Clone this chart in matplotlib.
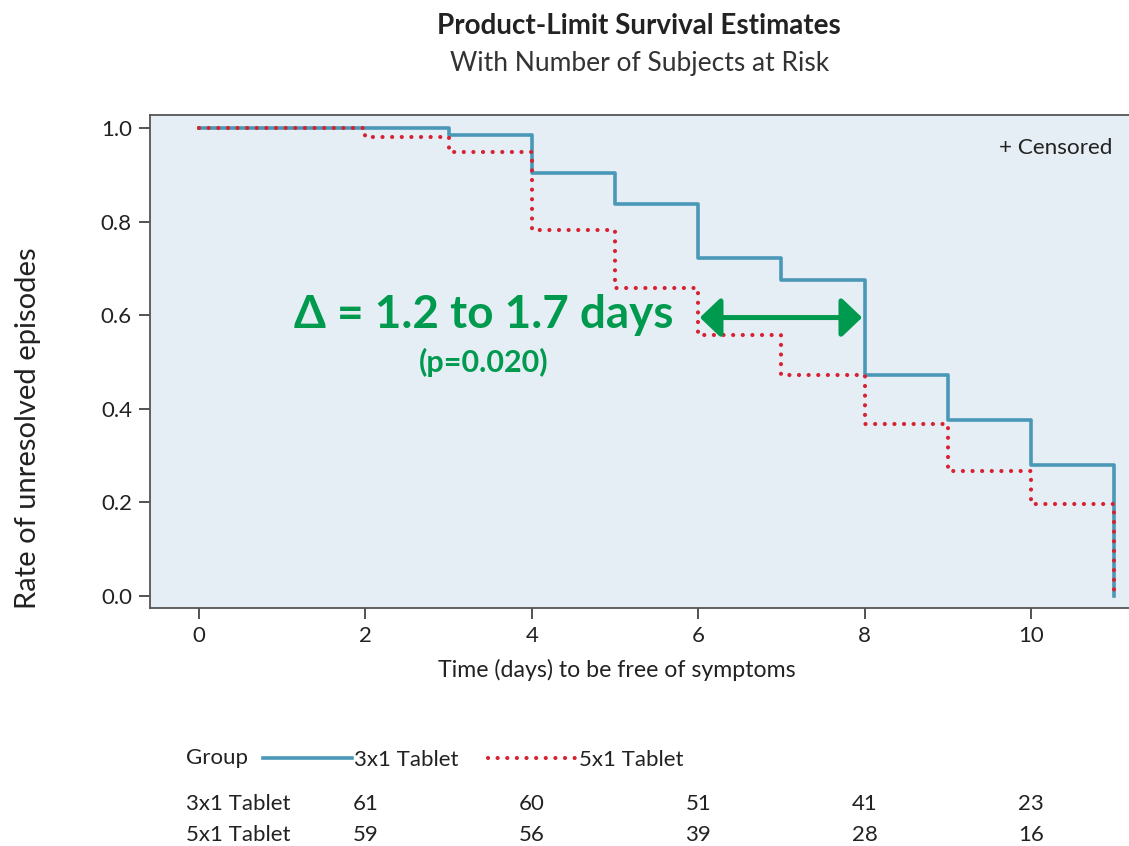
import matplotlib
matplotlib.use("Agg")
import matplotlib.pyplot as plt
from matplotlib.lines import Line2D
from matplotlib.patches import FancyArrowPatch
from matplotlib.transforms import blended_transform_factory

# ---------------- data ----------------
blue_times = [0, 3, 4, 5, 6, 7, 8, 9, 10, 11]
blue_surv = [1.0, 0.984, 0.9045, 0.838, 0.723, 0.676, 0.472, 0.377, 0.281, 0.0]
red_times = [0, 2, 3, 4, 5, 6, 7, 8, 9, 10, 11]
red_surv = [1.0, 0.981, 0.949, 0.782, 0.658, 0.558, 0.472, 0.368, 0.268, 0.197, 0.0]
group_labels = ["3x1 Tablet", "5x1 Tablet"]
risk_times = [2, 4, 6, 8, 10]
risk_3x1 = [61, 60, 51, 41, 23]
risk_5x1 = [59, 56, 39, 28, 16]
x_ticks = [0, 2, 4, 6, 8, 10]
y_ticks = [0.0, 0.2, 0.4, 0.6, 0.8, 1.0]
arrow_from, arrow_to, arrow_y = 6.02, 7.97, 0.595

FONT = ["Lato", "DejaVu Sans"]
plt.rcParams["font.family"] = FONT

BLUE = "#4A98B7"
RED = "#D62231"
GREEN = "#009A4E"
BG = "#E5EDF5"
TXT = "#222222"
DOT = (0, (0.01, 2.3))

W, H = 1129, 846
fig = plt.figure(figsize=(W / 100, H / 100), dpi=100)

def fx(px):
    return px / W

def fy(py):
    return 1 - py / H

ax = fig.add_axes([fx(150), fy(608), 1 - fx(150), fy(115) - fy(608)])
ax.set_facecolor(BG)
ax.set_xlim(-0.589, 11.178)
ax.set_ylim(-0.0256, 1.0278)

ax.step(blue_times, blue_surv, where="post", color=BLUE, lw=2.6, zorder=3)
ax.step(red_times, red_surv, where="post", color=RED, lw=3.0,
        linestyle=DOT, dash_capstyle="round", zorder=4)

ax.set_xticks(x_ticks)
ax.set_xticklabels([str(t) for t in x_ticks])
ax.set_yticks(y_ticks)
ax.set_yticklabels([f"{v:.1f}" for v in y_ticks])
ax.tick_params(axis="both", direction="out", length=8, width=1.3,
               color="#444444", labelsize=16, labelcolor=TXT, pad=5)
for s in ["left", "bottom", "top"]:
    ax.spines[s].set_color("#555555")
    ax.spines[s].set_linewidth(1.3)
ax.spines["right"].set_visible(False)

# arrow
arr = FancyArrowPatch((arrow_from, arrow_y), (arrow_to, arrow_y),
                      arrowstyle="<|-|>,head_length=1.05,head_width=1.0",
                      mutation_scale=12, color=GREEN, lw=3.6, zorder=5,
                      shrinkA=0, shrinkB=0)
ax.add_patch(arr)

ax.text(fx(484), fy(315), "\u0394 = 1.2 to 1.7 days", transform=fig.transFigure,
        ha="center", va="center", color=GREEN, fontsize=33, fontweight="bold")
ax.text(fx(484), fy(362), "(p=0.020)", transform=fig.transFigure,
        ha="center", va="center", color=GREEN, fontsize=22, fontweight="bold")
ax.text(fx(1112), fy(148), "+ Censored", transform=fig.transFigure,
        ha="right", va="center", color=TXT, fontsize=16.2)

# titles and labels
fig.text(fx(639), fy(26), "Product-Limit Survival Estimates", ha="center",
         va="center", fontsize=20, fontweight="bold", color=TXT)
fig.text(fx(640), fy(64), "With Number of Subjects at Risk", ha="center",
         va="center", fontsize=19, color="#333333")
fig.text(fx(617), fy(670), "Time (days) to be free of symptoms", ha="center",
         va="center", fontsize=16.7, color=TXT)
fig.text(fx(28), fy(428), "Rate of unresolved episodes", ha="center",
         va="center", rotation=90, fontsize=21, color=TXT)

# risk table legend
fig.text(fx(186), fy(758), "Group", ha="left", va="center", fontsize=16, color=TXT)
h1 = Line2D([], [], color=BLUE, lw=2.6)
h2 = Line2D([], [], color=RED, lw=3.0, linestyle=DOT, dash_capstyle="round")
fig.legend([h1, h2], group_labels, loc="center left",
           bbox_to_anchor=(fx(263), fy(760)), ncol=2, frameon=False,
           fontsize=16, handlelength=4.0, handletextpad=0.1,
           columnspacing=1.3, borderpad=0, borderaxespad=0,
           labelcolor=TXT)

# risk table numbers
tr = blended_transform_factory(ax.transData, fig.transFigure)
for row_y, label, vals in [(804, group_labels[0], risk_3x1),
                           (835, group_labels[1], risk_5x1)]:
    fig.text(fx(186), fy(row_y), label, ha="left", va="center", fontsize=16,
             color=TXT)
    for t, v in zip(risk_times, vals):
        ax.text(t, fy(row_y), str(v), transform=tr,
                ha="center", va="center", fontsize=16, color=TXT)

fig.savefig("out.png", dpi=100)
